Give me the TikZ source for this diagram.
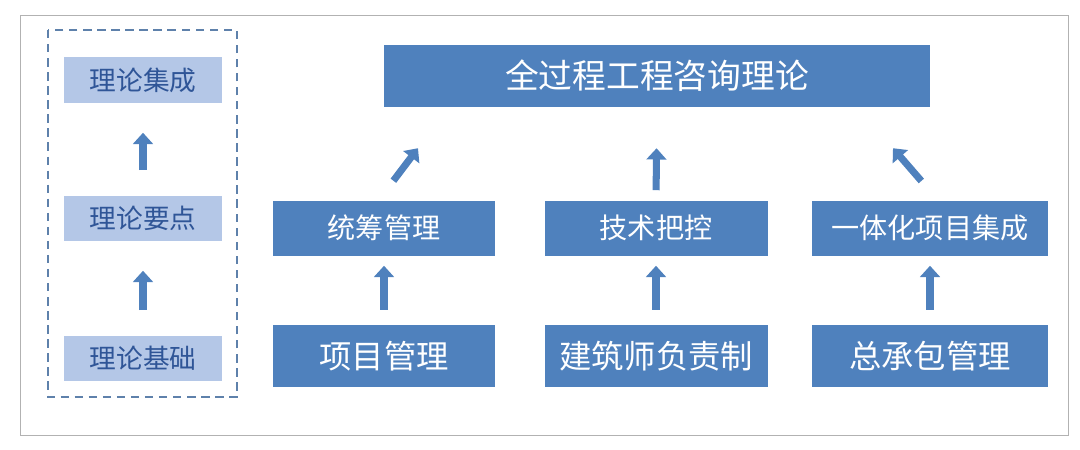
\documentclass[tikz,border=0pt]{standalone}
\usepackage{fontspec}
\newfontfamily\cjk{Noto Sans CJK SC}
\usetikzlibrary{arrows.meta,calc}
\definecolor{boxblue}{HTML}{4F81BD}
\definecolor{lightblue}{HTML}{B4C7E7}
\definecolor{darkblue}{HTML}{2F5597}
\tikzset{
  mainbox/.style={rectangle, fill=boxblue, text=white, inner sep=0pt, font=\cjk},
  levelbox/.style={rectangle, fill=lightblue, text=darkblue, inner sep=0pt, minimum width=39.25mm, minimum height=11.25mm, font=\cjk\fontsize{19}{19}\selectfont},
  uparrow/.style={draw=boxblue, line width=5pt, -{Triangle[length=8pt,width=14pt]}}
}
\begin{document}
\begin{tikzpicture}[x=0.25mm,y=-0.25mm]
        \useasboundingbox (0,0) rectangle (1080,450);
        \draw[gray!60, line width=0.6pt] (20,15) rectangle (1068,435);
        \draw[boxblue!70!gray, dashed, dash pattern=on 6pt off 4pt, line width=1pt] (48,30) rectangle (237,397);

        \node[levelbox] (lv3) at (143,80) {理论集成};
        \node[levelbox] (lv2) at (143,218) {理论要点};
        \node[levelbox] (lv1) at (143,358) {理论基础};

        \node[mainbox, minimum width=136.25mm, minimum height=15.5mm, font=\cjk\fontsize{24}{24}\selectfont] (top) at (657,76) {全过程工程咨询理论};

        \node[mainbox, minimum width=55.5mm, minimum height=13.75mm, font=\cjk\fontsize{20}{20}\selectfont] (m1) at (384,228) {统筹管理};
        \node[mainbox, minimum width=55.75mm, minimum height=13.75mm, font=\cjk\fontsize{20}{20}\selectfont] (m2) at (656,228) {技术把控};
        \node[mainbox, minimum width=59mm, minimum height=13.75mm, font=\cjk\fontsize{20}{20}\selectfont] (m3) at (930,228) {一体化项目集成};

        \node[mainbox, minimum width=55.5mm, minimum height=15.5mm, font=\cjk\fontsize{23}{23}\selectfont] (b1) at (384,356) {项目管理};
        \node[mainbox, minimum width=55.75mm, minimum height=15.5mm, font=\cjk\fontsize{23}{23}\selectfont] (b2) at (656,356) {建筑师负责制};
        \node[mainbox, minimum width=59mm, minimum height=15.5mm, font=\cjk\fontsize{23}{23}\selectfont] (b3) at (930,356) {总承包管理};

        % left column
        \draw[uparrow, shorten <=6.25mm, shorten >=7.5mm] (lv1) -- (lv2);
        \draw[uparrow, shorten <=6.25mm, shorten >=7.5mm] (lv2) -- (lv3);

        % bottom to middle
        \draw[uparrow, shorten <=3.75mm, shorten >=2.5mm] (b1.north) -- (m1.south);
        \draw[uparrow, shorten <=3.75mm, shorten >=2.5mm] (b2.north) -- (m2.south);
        \draw[uparrow, shorten <=3.75mm, shorten >=2.5mm] (b3.north) -- (m3.south);

        % middle to top
        \coordinate (t1) at ($(m1.north)+(34,-52)$);
        \coordinate (t3) at ($(m3.north)+(-37,-52)$);
        \draw[uparrow, shorten <=4pt] ($(m1.north)+(6,-15)$) -- (t1);
        \draw[uparrow, shorten <=2.5mm, shorten >=10.25mm] (m2.north) -- (top.south);
        \draw[uparrow, shorten <=4pt] ($(m3.north)+(-5,-15)$) -- (t3);
\end{tikzpicture}
\end{document}
